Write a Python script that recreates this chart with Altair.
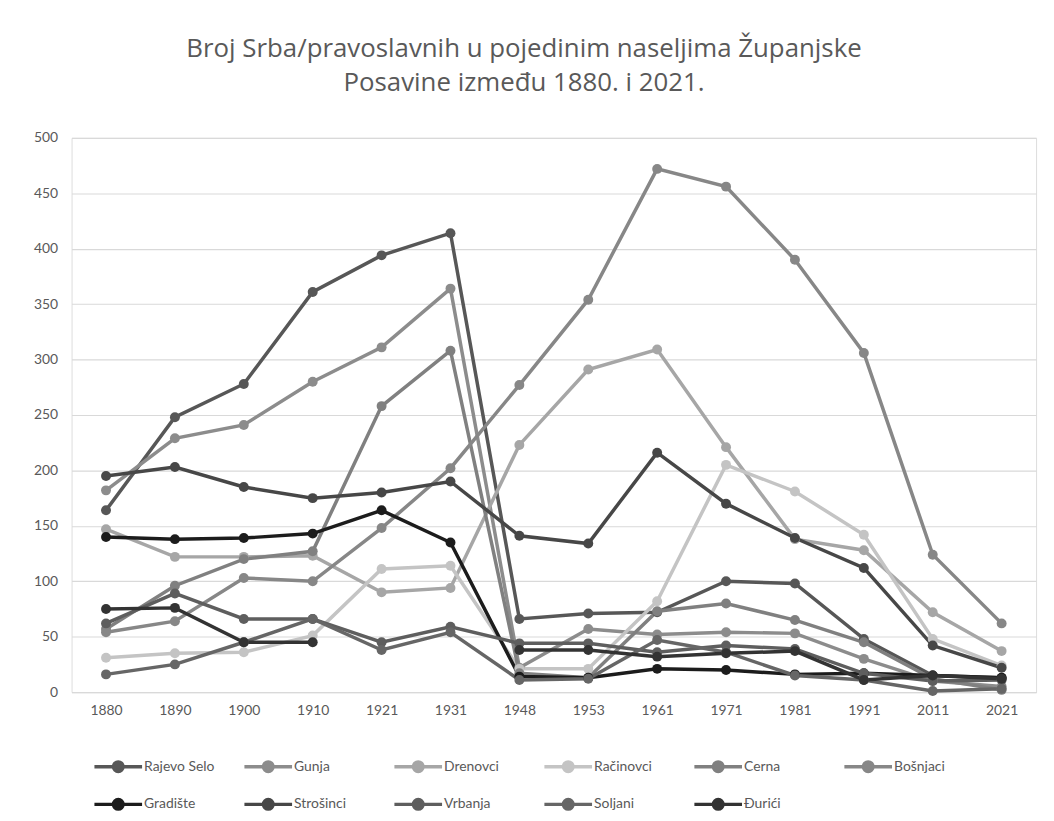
import altair as alt
import pandas as pd

years = ["1880", "1890", "1900", "1910", "1921", "1931", "1948",
         "1953", "1961", "1971", "1981", "1991", "2011", "2021"]

rajevo_selo = [164, 248, 278, 361, 394, 414, 66, 71, 72, 100, 98, 48, 15, 13]
gunja = [182, 229, 241, 280, 311, 364, 22, 57, 52, 54, 53, 30, 10, 5]
drenovci = [147, 122, 122, 123, 90, 94, 223, 291, 309, 221, 138, 128, 72, 37]
racinovci = [31, 35, 36, 51, 111, 114, 21, 21, 82, 205, 181, 142, 48, 24]
cerna = [57, 96, 120, 127, 258, 308, 17, 13, 73, 80, 65, 45, 12, 2]
bosnjaci = [54, 64, 103, 100, 148, 202, 277, 354, 472, 456, 390, 306, 124, 62]
gradiste = [140, 138, 139, 143, 164, 135, 14, 13, 21, 20, 16, 17, 15, 13]
strosinci = [195, 203, 185, 175, 180, 190, 141, 134, 216, 170, 139, 112, 42, 22]
vrbanja = [62, 89, 66, 66, 45, 59, 44, 44, 36, 42, 39, 17, 10, 11]
soljani = [16, 25, 45, 66, 38, 54, 11, 12, 47, 36, 15, 11, 1, 3]
djurici = [75, 76, 45, 45, None, None, 38, 38, 32, 35, 37, 11, 15, 12]

series_names = ["Rajevo Selo", "Gunja", "Drenovci", "Račinovci", "Cerna", "Bošnjaci",
                "Gradište", "Strošinci", "Vrbanja", "Soljani", "Đurići"]
series_values = [rajevo_selo, gunja, drenovci, racinovci, cerna, bosnjaci,
                 gradiste, strosinci, vrbanja, soljani, djurici]
series_colors = ["#575757", "#8c8c8c", "#a6a6a6", "#c4c4c4", "#808080", "#878787",
                 "#1c1c1c", "#474747", "#5e5e5e", "#666666", "#333333"]

rows = []
for name, vals in zip(series_names, series_values):
    for y, v in zip(years, vals):
        rows.append({"godina": y, "naselje": name, "broj": v})
df = pd.DataFrame(rows)

font = "Lato"
title_font = "Open Sans"
text_color = "#595959"

legend_symbol = "M-1,0L1,0M0.2,0A0.2,0.2,0,1,1,-0.2,0A0.2,0.2,0,1,1,0.2,0Z"

chart = alt.Chart(df).mark_line(
    strokeWidth=3.5,
    invalid="break-paths-show-domains",
    point=alt.OverlayMarkDef(filled=True, size=100, opacity=1),
).encode(
    x=alt.X("godina:N", sort=years,
            scale=alt.Scale(type="point", padding=0.5),
            axis=alt.Axis(title=None, labelAngle=0, domain=True, domainColor="#d9d9d9",
                          ticks=False, labelFont=font, labelFontSize=14,
                          labelColor=text_color, labelPadding=12, grid=False)),
    y=alt.Y("broj:Q",
            scale=alt.Scale(domain=[0, 500], nice=False),
            axis=alt.Axis(title=None, values=list(range(0, 501, 50)), domain=False,
                          ticks=False, labelFont=font, labelFontSize=14,
                          labelColor=text_color, labelPadding=14,
                          gridColor="#d9d9d9", gridWidth=1.2)),
    color=alt.Color("naselje:N",
                    scale=alt.Scale(domain=series_names, range=series_colors),
                    legend=alt.Legend(title=None, orient="none", direction="horizontal",
                                      columns=6, legendX=21, legendY=607,
                                      symbolType=legend_symbol, symbolSize=2300,
                                      symbolStrokeWidth=3.5, symbolFillColor=None,
                                      labelFont=font, labelFontSize=14,
                                      labelColor=text_color, labelOffset=0,
                                      columnPadding=23, rowPadding=-6,
                                      gridAlign="all")),
    order=alt.Order("godina:N"),
).properties(
    width=971,
    height=558,
    title=alt.TitleParams(
        ["Broj Srba/pravoslavnih u pojedinim naseljima Županjske",
         "Posavine između 1880. i 2021."],
        font=title_font, fontSize=26, fontWeight="normal", color=text_color,
        anchor="middle", lineHeight=34, offset=35, dx=-30,
    ),
    autosize=alt.AutoSizeParams(type="none"),
    padding={"left": 64, "top": 128, "right": 10, "bottom": 125},
).configure_view(stroke=None).configure(background="white")

chart.save("out.html", embed_options={"renderer": "svg", "actions": False})
